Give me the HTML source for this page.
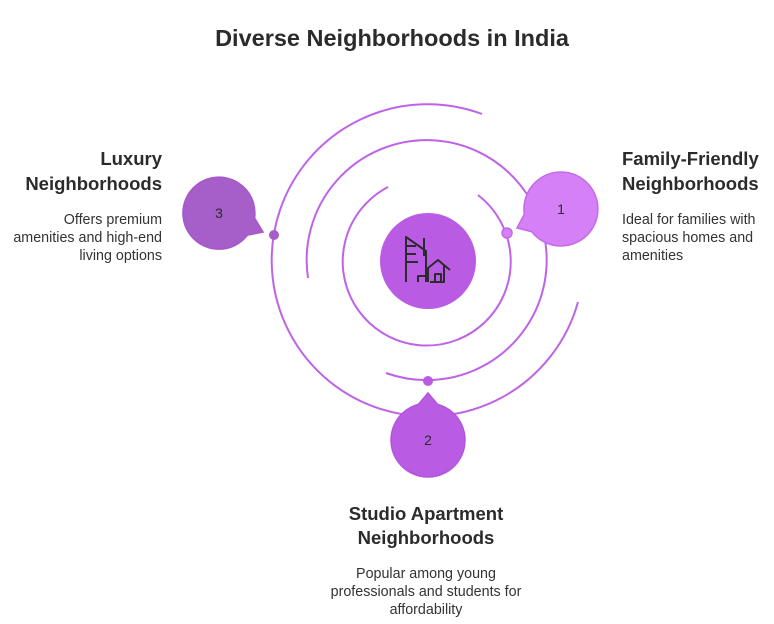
<!DOCTYPE html>
<html><head><style>
body{margin:0;background:#fff;width:774px;height:624px;overflow:hidden;font-family:"Liberation Sans",Arial,sans-serif;}
</style></head><body>
<svg width="774" height="624" viewBox="0 0 774 624" xmlns="http://www.w3.org/2000/svg" style="position:absolute;left:0;top:0">
<text x="392" y="46" text-anchor="middle" font-size="23.5" font-weight="bold" fill="#2b2b2b">Diverse Neighborhoods in India</text>
<g fill="none" stroke="#bf63e6" stroke-width="2">
<path d="M478,195 A84,84 0 1 1 388,187"/>
<path d="M308,278 A120,120 0 1 1 386,373"/>
<path d="M482,114 A156,156 0 1 0 578,302"/>
</g>
<circle cx="428" cy="261" r="48" fill="#b95ce3"/>
<g fill="none" stroke="#2b2b2b" stroke-width="2" stroke-linejoin="round">
<path d="M406,282 V237 L426,251 V282 M418,282 V276 H425"/>
<path d="M424,238 V256"/>
<path d="M406,246 H416 M406,254 H416 M406,262 H418"/>
<path d="M428,282 V268 L438,260 L450,270 M444,265 V282 H430 M435,282 V274 H441 V282"/>
</g>
<path d="M517,228 L524.3,214.2 A37,37 0 1 1 531.8,231.8 Z" fill="#d580f7" stroke="#c46ae8" stroke-width="1.5"/>
<circle cx="507" cy="233" r="5" fill="#d580f7" stroke="#c46ae8" stroke-width="1.5"/>
<text x="561" y="214" text-anchor="middle" font-size="14" fill="#2b2b2b">1</text>
<path d="M428,393 L437.6,404.3 A37,37 0 1 1 418.4,404.3 Z" fill="#b95ce3" stroke="#b155dc" stroke-width="1.5"/>
<circle cx="428" cy="381" r="5" fill="#b95ce3"/>
<text x="428" y="445" text-anchor="middle" font-size="14" fill="#2b2b2b">2</text>
<path d="M263,232 L247.4,235.2 A36,36 0 1 1 254.6,218 Z" fill="#a65ec8" stroke="#a757cc" stroke-width="1.5"/>
<circle cx="274" cy="235" r="5" fill="#a65ec8"/>
<text x="219" y="218" text-anchor="middle" font-size="14" fill="#2b2b2b">3</text>
<g font-size="18.5" font-weight="bold" fill="#2b2b2b">
<text x="622" y="165">Family-Friendly</text>
<text x="622" y="190">Neighborhoods</text>
<text x="162" y="165" text-anchor="end">Luxury</text>
<text x="162" y="190" text-anchor="end">Neighborhoods</text>
<text x="426" y="520" text-anchor="middle">Studio Apartment</text>
<text x="426" y="544" text-anchor="middle">Neighborhoods</text>
</g>
<g font-size="14.3" fill="#333">
<text x="622" y="224">Ideal for families with</text>
<text x="622" y="242">spacious homes and</text>
<text x="622" y="260">amenities</text>
<text x="162" y="224" text-anchor="end">Offers premium</text>
<text x="162" y="242" text-anchor="end">amenities and high-end</text>
<text x="162" y="260" text-anchor="end">living options</text>
<text x="426" y="578" text-anchor="middle">Popular among young</text>
<text x="426" y="596" text-anchor="middle">professionals and students for</text>
<text x="426" y="614" text-anchor="middle">affordability</text>
</g>
</svg>
</body></html>
